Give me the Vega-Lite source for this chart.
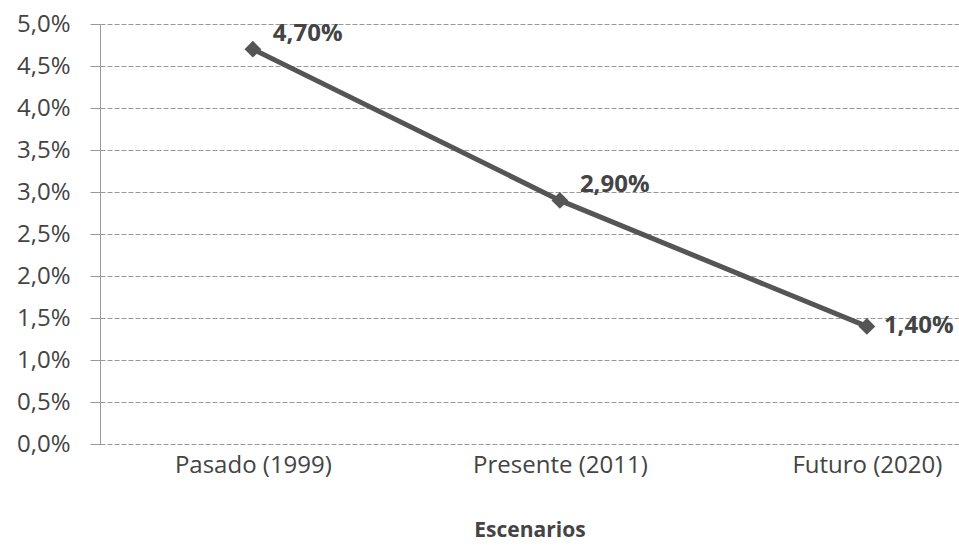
{
  "$schema": "https://vega.github.io/schema/vega-lite/v6.json",
  "width": 859,
  "height": 420,
  "autosize": {"type": "none"},
  "padding": {"left": 100, "top": 24, "right": 0, "bottom": 101},
  "background": "white",
  "data": {"values": [
    {"escenario": "Pasado (1999)", "valor": 0.047, "etiqueta": "4,70%", "pos": "arriba"},
    {"escenario": "Presente (2011)", "valor": 0.029, "etiqueta": "2,90%", "pos": "arriba"},
    {"escenario": "Futuro (2020)", "valor": 0.014, "etiqueta": "1,40%", "pos": "lado"}
  ]},
  "encoding": {
    "x": {
      "field": "escenario", "type": "nominal", "sort": null,
      "scale": {"type": "point", "padding": 0.399, "align": 0.624},
      "axis": {
        "title": "Escenarios", "labelAngle": 0, "ticks": false, "domain": false, "grid": false,
        "labelFont": "Open Sans", "labelFontSize": 24, "labelColor": "#444444", "labelPadding": 9,
        "titleFont": "Open Sans", "titleFontSize": 21, "titleFontWeight": "bold", "titleColor": "#444444", "titlePadding": 42
      }
    },
    "y": {
      "field": "valor", "type": "quantitative",
      "scale": {"domain": [0, 0.05], "nice": false},
      "axis": {
        "title": null, "values": [0, 0.005, 0.01, 0.015, 0.02, 0.025, 0.03, 0.035, 0.04, 0.045, 0.05],
        "labelExpr": "replace(format(datum.value, '.1%'), '.', ',')",
        "labelFont": "Open Sans", "labelFontSize": 24, "labelColor": "#444444", "labelPadding": 20,
        "tickSize": 10, "tickColor": "#999999", "domainColor": "#999999",
        "grid": true, "gridColor": "#999999", "gridDash": [5, 2], "gridWidth": 1
      }
    }
  },
  "layer": [
    {"mark": {"type": "line", "color": "#555555", "strokeWidth": 5}},
    {"mark": {"type": "point", "shape": "diamond", "filled": true, "color": "#555555", "size": 280, "opacity": 1}},
    {
      "transform": [{"filter": "datum.pos == 'arriba'"}],
      "mark": {"type": "text", "align": "left", "baseline": "middle", "dx": 20, "dy": -15, "font": "Open Sans", "fontSize": 24, "fontWeight": "bold", "color": "#444444"},
      "encoding": {"text": {"field": "etiqueta"}}
    },
    {
      "transform": [{"filter": "datum.pos == 'lado'"}],
      "mark": {"type": "text", "align": "left", "baseline": "middle", "dx": 17, "dy": 0, "font": "Open Sans", "fontSize": 24, "fontWeight": "bold", "color": "#444444"},
      "encoding": {"text": {"field": "etiqueta"}}
    }
  ],
  "config": {"view": {"stroke": null}}
}
